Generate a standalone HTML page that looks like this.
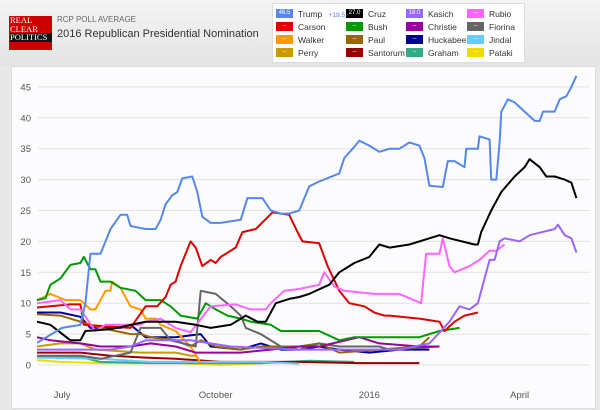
<!DOCTYPE html>
<html><head><meta charset="utf-8">
<style>
body{margin:0;width:600px;height:410px;overflow:hidden;background:#e8e8e8;font-family:"Liberation Sans",sans-serif;position:relative}
#hdr{position:absolute;left:0;top:0;width:600px;height:66px;background:linear-gradient(#f4f4f4,#e4e4e4)}
#logo{position:absolute;left:9px;top:16px;width:42px;height:34px;background:#cc0000;color:#fff;font-family:"Liberation Serif",serif;font-size:8.5px;line-height:8.5px;padding-left:1px}
#logo span{display:block}
#logo .p{background:#111;margin-top:0}
#sub{position:absolute;left:57px;top:15px;font-size:8px;color:#666}
#ttl{position:absolute;left:57px;top:28px;font-size:11px;color:#333}
#leg{position:absolute;left:272px;top:3px;width:251px;height:58px;background:#fff;border:1px solid #ddd}
.li{position:absolute;font-size:8.5px;color:#333;height:10px;line-height:10px}
.sw{display:inline-block;width:17px;height:9px;vertical-align:top;margin-right:5px;color:#fff;font-size:6px;text-align:center;line-height:9px}
#panel{position:absolute;left:11px;top:66px;width:583px;height:341px;background:#fcfcfe;border:1px solid #ddd}
svg{position:absolute;left:0;top:0}
</style></head><body>
<div id="hdr"></div>
<div id="logo"><span>REAL</span><span>CLEAR</span><span class="p">POLITICS</span></div>
<div id="sub">RCP POLL AVERAGE</div>
<div id="ttl">2016 Republican Presidential Nomination</div>
<div id="leg"></div>
<div id="panel"></div>
<svg id="chart" width="600" height="410"></svg>
<script>
const yTicks=[0,5,10,15,20,25,30,35,40,45];
const xTickLabels=["July","October","2016","April"];
const xTickDays=[15,107,199,289];
const names=["Trump","Cruz","Kasich","Rubio","Carson","Bush","Christie","Fiorina","Walker","Paul","Huckabee","Jindal","Perry","Santorum","Graham","Pataki"];
const colors=["#5588ee","#000000","#9966ff","#ff66ff","#dd0000","#009900","#990099","#666666","#ff9900","#996600","#000099","#66ccff","#cc9900","#990000","#33aa88","#eedd00"];
const legendValues=["46.5","27.0","18.0","--","--","--","--","--","--","--","--","--","--","--","--","--"];
const trumpDays=[0,15,26,29,32,38,44,50,54,56,65,71,74,77,81,84,87,93,96,99,104,110,122,126,135,140,146,151,157,163,169,181,184,190,193,199,205,211,217,223,229,232,235,243,246,250,256,257,264,265,271,272,275,277,278,282,286,292,298,301,303,310,313,317,320,323];
const trumpVals=[3.6,6,6.5,10,18,18,22,24.3,24.3,22.5,22,22,23.5,26,27.5,28,30.2,30.5,28,24,23,23,23.5,27,27,25,24.5,24.5,25,28.9,29.7,31,33.5,35.3,36.3,35.5,34.5,35,35,36,35.5,33.5,29,28.8,33,33,32,35,35,37,36.5,30,30,36,41,43,42.5,41,39.5,39.5,41,41,43,43.5,45,46.8];
const cruzDays=[0,8,20,26,29,44,65,83,95,104,116,125,132,137,143,151,157,163,175,181,190,199,205,211,223,235,241,247,262,264,266,272,278,286,292,295,301,305,310,316,320,323];
const cruzVals=[7,6.5,4,4,5.5,5.8,7,7,6.5,6,6.5,8,7,7,10,10.7,11,11.5,13,15,16.5,17.5,19.5,19,19.5,20.5,21,20.5,19.5,19.5,21.5,25,28,30.5,32,33.3,32,30.5,30.5,30,29.5,27];
const kasichDays=[0,44,56,65,92,116,157,217,235,247,253,259,264,266,271,274,277,280,289,295,310,312,316,320,323];
const kasichVals=[2.5,2.5,3,4,4,3,2.5,2.5,3.5,7,9.5,9,10,12,17,17,20,20.5,20,21,22,22.7,21,20.5,18.2];
const rubioDays=[0,14,20,26,35,41,62,65,74,83,92,104,119,128,137,140,148,157,169,172,178,184,202,217,230,233,241,243,247,250,259,265,271,275,280];
const rubioVals=[10,10.5,9,9,5.5,6.5,6.5,7,7.5,6,5.3,9.5,9.8,9,9,10,12,12.3,13,15,12.7,12,11.5,11.5,10,18,18,20.5,16,15,16,17,18.5,18.5,19.5];
const carsonDays=[0,20,26,28,56,65,72,77,80,83,86,92,95,99,104,107,110,119,123,131,141,151,156,159,169,174,181,187,196,202,208,211,229,241,244,250,256,264];
const carsonVals=[9.3,9.8,9.8,6.5,6,9.5,9.5,11,13,13.5,16,20,19,16,17,16.5,17.5,19,21.5,22,24.7,24.3,21.5,20,19.7,16,12,10,9.5,8.5,8,8,7.5,7,5.5,7,8,8.5];
const bushDays=[0,5,8,14,20,26,28,32,35,38,44,50,59,65,74,80,86,96,101,107,114,122,128,140,146,157,169,181,190,205,229,241,253];
const bushVals=[10.5,10.8,13,14,16.2,16.5,17.5,15.5,15.5,13.5,13.5,12.5,12,10.5,10.5,9.5,8,7.5,10,9,8,7.5,7,6.5,5.5,5.5,5.5,4,4.5,4.5,4.5,5.5,6];
const christieDays=[0,8,26,38,56,68,83,95,104,122,140,157,169,193,205,229,241];
const christieVals=[4.5,4,3.5,3,3,3.5,3,2,2,2,2.5,3,3,4.5,3.5,3,3];
const fiorinaDays=[0,26,38,56,62,74,80,95,98,107,116,122,125,134,146,157,169,181,205,211,241];
const fiorinaVals=[1.5,1.5,1,2,6,6,4,3,12,11.5,9.5,8,6,5,3,2.5,3.5,3,3,2.5,3];
const walkerDays=[0,8,17,26,32,35,41,44,45,50,56,62,65,71,74,83,92,98];
const walkerVals=[10.5,11.5,10.5,10.5,9,9,12,12,13.5,12.5,9.5,9,7.5,7.5,6.5,5.5,3,0.3];
const paulDays=[0,14,26,38,56,62,68,83,92,98,107,122,134,151,157,169,181,205,229,235];
const paulVals=[8.2,8,7,6,5,5,4.5,4,3,4,3,2.5,3,3,3,3.5,2,2.5,3,4.5];
const huckDays=[0,14,26,32,50,56,65,83,98,104,122,134,146,157,169,181,199,217,235];
const huckVals=[8.5,8.5,7.8,6,6,6.5,4.5,4.5,5,3,2.5,3.5,2.5,2.5,3,2.5,2,2.5,2.5];
const jindalDays=[0,38,68,134,151,157];
const jindalVals=[1.2,1,0.5,0.5,0.3,0.2];
const perryDays=[0,14,26,35,62,83,92,95];
const perryVals=[3,3.5,3.5,2.5,2,2,1.5,1.5];
const santorumDays=[0,26,44,65,83,110,157,193,229];
const santorumVals=[2,2,1.5,1.2,1,0.5,0.5,0.3,0.3];
const grahamDays=[0,26,38,68,134,163,190];
const grahamVals=[1.3,1.3,0.5,0.3,0.3,0.7,0.5];
const patakiDays=[0,14,38,86,110,157,198];
const patakiVals=[0.8,0.5,0.3,0.3,0,0.5,0.3];

const seriesDays=[trumpDays,cruzDays,kasichDays,rubioDays,carsonDays,bushDays,christieDays,fiorinaDays,walkerDays,paulDays,huckDays,jindalDays,perryDays,santorumDays,grahamDays,patakiDays];
const seriesVals=[trumpVals,cruzVals,kasichVals,rubioVals,carsonVals,bushVals,christieVals,fiorinaVals,walkerVals,paulVals,huckVals,jindalVals,perryVals,santorumVals,grahamVals,patakiVals];

const NS="http://www.w3.org/2000/svg";
const svg=document.getElementById('chart');
const X0=37,PX_PER_DAY=1.67,Y0=365,PX_PER_UNIT=6.18;
function xs(d){return X0+d*PX_PER_DAY;}
function ys(v){return Y0-v*PX_PER_UNIT;}

yTicks.forEach(t=>{
  const l=document.createElementNS(NS,'line');
  l.setAttribute('x1',38);l.setAttribute('x2',590);
  l.setAttribute('y1',ys(t));l.setAttribute('y2',ys(t));
  l.setAttribute('stroke','#e2e2e2');l.setAttribute('stroke-width','1');
  
  
  svg.appendChild(l);
  const tx=document.createElementNS(NS,'text');
  tx.setAttribute('x',31);tx.setAttribute('y',ys(t)+3.5);
  tx.setAttribute('text-anchor','end');tx.setAttribute('font-size','9.5');tx.setAttribute('fill','#555');
  tx.textContent=t;
  
  
  svg.appendChild(tx);
});
xTickLabels.forEach((lab,i)=>{
  const tx=document.createElementNS(NS,'text');
  tx.setAttribute('x',xs(xTickDays[i]));tx.setAttribute('y',398);
  tx.setAttribute('text-anchor','middle');tx.setAttribute('font-size','9.5');tx.setAttribute('fill','#555');
  tx.textContent=lab;
  
  
  svg.appendChild(tx);
});
for(let i=seriesDays.length-1;i>=0;i--){
  const d=seriesDays[i].map((dd,j)=>(j?'L':'M')+xs(dd).toFixed(1)+','+ys(seriesVals[i][j]).toFixed(1)).join('');
  const p=document.createElementNS(NS,'path');
  p.setAttribute('d',d);p.setAttribute('fill','none');
  p.setAttribute('stroke',colors[i]);p.setAttribute('stroke-width','2');p.setAttribute('stroke-linejoin','round');
  
  
  svg.appendChild(p);
}
// legend
const leg=document.getElementById('leg');
const colX=[3,73,133,194],rowY=[5,18,31,44];
const order=[0,4,8,12,1,5,9,13,2,6,10,14,3,7,11,15];
const legendOrder=["Trump","Carson","Walker","Perry","Cruz","Bush","Paul","Santorum","Kasich","Christie","Huckabee","Graham","Rubio","Fiorina","Jindal","Pataki"];
legendOrder.forEach((nm,k)=>{
  const i=names.indexOf(nm);
  const c=Math.floor(k/4),r=k%4;
  const el=document.createElement('div');
  el.className='li';
  el.style.left=colX[c]+'px';el.style.top=rowY[r]+'px';
  el.innerHTML='<span class="sw" style="background:'+colors[i]+'">'+legendValues[i]+'</span>'+nm+(nm==='Trump'?' <span style="color:#5577ee;font-size:6.5px;margin-left:4px">+19.5</span>':'');
  
  
  leg.appendChild(el);
});
</script>
</body></html>
